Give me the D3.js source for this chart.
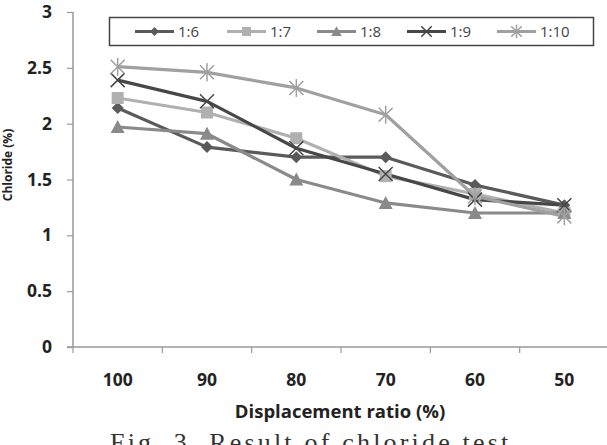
<!DOCTYPE html>
<html><head><meta charset="utf-8">
<script src="https://cdn.jsdelivr.net/npm/d3@7"></script>
<style>body{margin:0;background:#fff}svg{display:block}</style>
</head><body>
<svg id="c" width="607" height="445"></svg>
<script>
const categories = ["100","90","80","70","60","50"];
const seriesNames = ["1:6","1:7","1:8","1:9","1:10"];
const s16 = [2.14,1.79,1.70,1.70,1.45,1.27];
const s17 = [2.23,2.10,1.87,1.53,1.37,1.20];
const s18 = [1.97,1.91,1.50,1.29,1.20,1.20];
const s19 = [2.39,2.20,1.78,1.55,1.32,1.27];
const s110 = [2.51,2.46,2.32,2.08,1.35,1.17];
const yTicks = [0,0.5,1,1.5,2,2.5,3];
const yTickLabels = ["0","0.5","1","1.5","2","2.5","3"];

const series = [
  {name:"1:6", values:s16, color:"#5a5a5a", marker:"diamond"},
  {name:"1:7", values:s17, color:"#b0b0b0", marker:"square"},
  {name:"1:8", values:s18, color:"#8a8a8a", marker:"triangle"},
  {name:"1:9", values:s19, color:"#474747", marker:"x"},
  {name:"1:10", values:s110, color:"#a0a0a0", marker:"star"}
];

const svg = d3.select("#c");
const L = 73, R = 609, T = 12, B = 347;
const x = d3.scaleBand().domain(categories).range([L, R]);
const y = d3.scaleLinear().domain([0,3]).range([B, T]);
const font = "'Open Sans', 'DejaVu Sans', sans-serif";

// y axis
const ya = svg.append("g").attr("transform",`translate(${L},0)`)
  .call(d3.axisLeft(y).tickValues(yTicks).tickFormat((d,i)=>yTickLabels[i]).tickSize(6).tickPadding(15));
ya.select(".domain").attr("stroke","#999").attr("stroke-width",1.5).attr("d",`M-0,${T}V${B}`);
ya.selectAll(".tick line").attr("stroke","#999").attr("stroke-width",1.2);
ya.selectAll(".tick text").attr("font-family",font).attr("font-weight","bold").attr("font-size",17.5).attr("fill","#222");

// x axis
const xa = svg.append("g").attr("transform",`translate(0,${B})`)
  .call(d3.axisBottom(x).tickSize(0).tickPadding(27));
xa.select(".domain").attr("stroke","#999").attr("stroke-width",1.5).attr("d",`M${L-6},0H${R}`);
xa.selectAll(".tick text").attr("font-family",font).attr("font-weight","bold").attr("font-size",17.5).attr("fill","#222");
const bounds = categories.map(c=>x(c)).concat([R]);
xa.selectAll("line.bt").data(bounds).enter().append("line").attr("class","bt")
  .attr("x1",d=>d).attr("x2",d=>d).attr("y1",0).attr("y2",6).attr("stroke","#999").attr("stroke-width",1.2);

// titles
svg.append("text").attr("x",340).attr("y",418).attr("text-anchor","middle")
  .attr("font-family",font).attr("font-weight","bold").attr("font-size",18.5).attr("fill","#222")
  .text("Displacement ratio (%)");
svg.append("text").attr("transform","translate(12,165) rotate(-90)").attr("text-anchor","middle")
  .attr("font-family",font).attr("font-weight","bold").attr("font-size",12).attr("fill","#222")
  .text("Chloride (%)");
svg.append("text").attr("x",110).attr("y",451).attr("textLength",408).attr("lengthAdjust","spacing")
  .attr("font-family","'Liberation Serif', 'DejaVu Serif', serif").attr("font-size",26).attr("fill","#333")
  .text("Fig. 3. Result of chloride test.");

function drawMarker(g, type, cx, cy, color, k){
  k = k || 1;
  if(type==="diamond"){
    const s = 6*k;
    g.append("path").attr("d",`M${cx},${cy-s}L${cx+s},${cy}L${cx},${cy+s}L${cx-s},${cy}Z`).attr("fill",color);
  } else if(type==="square"){
    const s = 6*k;
    g.append("rect").attr("x",cx-s).attr("y",cy-s).attr("width",2*s).attr("height",2*s).attr("fill",color);
  } else if(type==="triangle"){
    g.append("path").attr("d",`M${cx},${cy-7*k}L${cx+7*k},${cy+6*k}L${cx-7*k},${cy+6*k}Z`).attr("fill",color);
  } else if(type==="x"){
    const s = 7*k;
    g.append("path").attr("d",`M${cx-s},${cy-s}L${cx+s},${cy+s}M${cx+s},${cy-s}L${cx-s},${cy+s}`).attr("stroke",color).attr("stroke-width",1.5);
  } else if(type==="star"){
    const s = 7*k;
    g.append("path").attr("d",`M${cx-s},${cy-s}L${cx+s},${cy+s}M${cx+s},${cy-s}L${cx-s},${cy+s}M${cx},${cy-9*k}L${cx},${cy+9*k}`).attr("stroke",color).attr("stroke-width",1.5);
  }
}

const line = d3.line().x((d,i)=>x(categories[i])+x.bandwidth()/2).y(d=>y(d));
const plot = svg.append("g");
series.forEach(s=>{
  plot.append("path").datum(s.values).attr("d",line).attr("fill","none")
    .attr("stroke",s.color).attr("stroke-width",3.2).attr("stroke-linejoin","round");
});
series.forEach(s=>{
  const g = plot.append("g");
  s.values.forEach((v,i)=>drawMarker(g, s.marker, x(categories[i])+x.bandwidth()/2, y(v), s.color));
});

// legend
const lg = svg.append("g");
lg.append("rect").attr("x",109.5).attr("y",17.5).attr("width",484).attr("height",28)
  .attr("fill","#fff").attr("stroke","#444").attr("stroke-width",1.5);
const legX = [135,227,317,407,497];
seriesNames.forEach((n,i)=>{
  const s = series[i];
  const g = lg.append("g");
  g.append("line").attr("x1",legX[i]).attr("x2",legX[i]+39).attr("y1",31.5).attr("y2",31.5)
    .attr("stroke",s.color).attr("stroke-width",3.2);
  drawMarker(g, s.marker, legX[i]+19.5, 31.5, s.color, 0.75);
  g.append("text").attr("x",legX[i]+43).attr("y",37).attr("font-family",font).attr("font-size",15)
    .attr("fill","#444").text(n);
});
</script>
</body></html>
